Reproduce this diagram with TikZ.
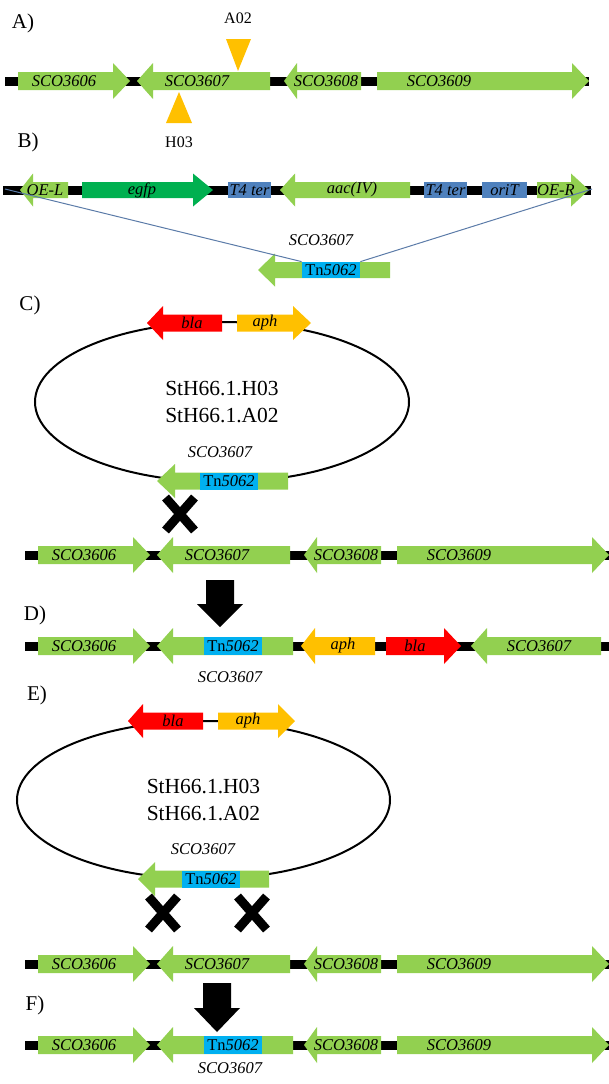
\documentclass[tikz,border=0pt]{standalone}
\usepackage{fontspec}
\setmainfont{Liberation Serif}
\usetikzlibrary{shapes.geometric,shapes.misc}

\definecolor{genegreen}{HTML}{92D050}
\definecolor{egfpgreen}{HTML}{00B050}
\definecolor{terblue}{HTML}{4F81BD}
\definecolor{tncyan}{HTML}{00B0F0}
\definecolor{aphyellow}{HTML}{FFC000}
\definecolor{blared}{HTML}{FF0000}
\definecolor{guideblue}{HTML}{5B7BA8}

\tikzset{every picture/.style={line width=0.75pt}}
\tikzset{
  genetext/.style={inner sep=0pt, font=\fontsize{16.5}{18}\selectfont\itshape},
  paneltext/.style={inner sep=0pt, font=\fontsize{21}{24}\selectfont},
  sitetext/.style={inner sep=0pt, font=\fontsize{16}{18}\selectfont},
  tnbox/.style={fill=tncyan, minimum width=58pt, minimum height={2*\bodyh},
    font=\fontsize{16.5}{18}\selectfont\upshape},
  featbox/.style={genetext, fill=terblue, minimum height=16pt},
  chrom/.style={line width=9pt},
  plasmid/.style={draw, ellipse, line width=2pt, inner sep=0pt, align=center,
    font=\fontsize{21.5}{27}\selectfont},
  guide/.style={draw=guideblue, line width=1pt},
  recomb/.style={cross out, draw, line width=9pt, minimum width=20pt,
    minimum height=24pt, inner sep=0pt},
}

\def\bodyh{9}
\def\headh{18}
% gene arrow: [node opts]{name}{y}{tail}{head base}{tip}{colour}{label x}{label}
\newcommand{\gene}[9][]{%
  \fill[#7] (#4,#3-\bodyh) -- (#5,#3-\bodyh) -- (#5,#3-\headh) -- (#6,#3)
    -- (#5,#3+\headh) -- (#5,#3+\bodyh) -- (#4,#3+\bodyh) -- cycle;
  \node[genetext,#1] (#2) at (#8,#3) {#9};}
% wild type SCO3606--SCO3609 locus
\newcommand{\wildtype}[2]{%
  \draw[chrom] (25,#2) -- (609,#2);
  \gene{#13606}{#2}{38}{133}{150}{genegreen}{84}{SCO3606}
  \gene{#13607}{#2}{290}{173}{157}{genegreen}{217}{SCO3607}
  \gene{#13608}{#2}{381}{317}{304}{genegreen}{346}{SCO3608}
  \gene{#13609}{#2}{397}{592}{609}{genegreen}{459}{SCO3609}}
\newcommand{\tntext}{Tn\textit{5062}}

\begin{document}
\begin{tikzpicture}[x=1pt,y=-1pt]
  \useasboundingbox (0,0) rectangle (609,1084);

  % A)
  \node[paneltext] (pA) at (23,23) {A)};
  \begin{scope}[xshift=-20pt]
    \wildtype{a}{81}
  \end{scope}
  \fill[aphyellow] (226,39) -- (251,39) -- (238,71) -- cycle;
  \node[sitetext] (sA02) at (238,18) {A02};
  \fill[aphyellow] (166,123) -- (192,123) -- (179,92) -- cycle;
  \node[sitetext] (sH03) at (179,142) {H03};

  % B)
  \node[paneltext] (pB) at (28,142) {B)};
  \def\bodyh{8}\def\headh{16.5}
  \draw[chrom] (3,190) -- (591,190);
  \gene{oel}{190}{68}{33}{20}{genegreen}{45}{OE-L}
  \gene{egfp}{190}{82}{193}{213}{egfpgreen}{142}{egfp}
  \node[featbox, minimum width=43pt] (ter1) at (249.5,190) {T4 ter};
  \gene{aac}{190}{410}{295}{280}{genegreen}{352}{aac(IV)}
  \node[featbox, minimum width=43pt] (ter2) at (445.5,190) {T4 ter};
  \node[featbox, minimum width=45pt] (orit) at (504.5,190) {oriT};
  \gene{oer}{190}{537}{571}{589}{genegreen}{556}{OE-R}
  \coordinate (bL) at (5,189);
  \coordinate (bR) at (592,189);
  \node[genetext] (bsco) at (321,240) {SCO3607};
  \gene[tnbox]{btn}{270}{390}{275}{258}{genegreen}{331}{\tntext}
  \draw[guide] (bL) -- (btn.north west);
  \draw[guide] (btn.north east) -- (bR);

  % C)
  \node[paneltext] (pC) at (30,305) {C)};
  \node[plasmid, minimum width=374pt, minimum height=160pt] (cring) at (222,402)
    {StH66.1.H03\\StH66.1.A02};
  \def\bodyh{8.5}\def\headh{17}
  \gene{cbla}{323}{222}{163}{147}{blared}{192}{bla}
  \gene{caph}{323}{237}{293}{311}{aphyellow}{265}{aph}
  \node[genetext] (csco) at (220,452) {SCO3607};
  \gene[tnbox]{ctn}{481}{288}{175}{157}{genegreen}{229}{\tntext}
  \node[recomb] (cx) at (180,514) {};
  \def\bodyh{9}\def\headh{18}
  \wildtype{c}{555}

  % D)
  \fill (206,580) -- (234,580) -- (234,604) -- (243,604) -- (220,627)
    -- (197,604) -- (206,604) -- cycle;
  \node[paneltext] (pD) at (35,615) {D)};
  \draw[chrom] (25,646) -- (609,646);
  \gene{d3606}{646}{38}{133}{150}{genegreen}{84}{SCO3606}
  \gene[tnbox]{dtn}{646}{293}{173}{157}{genegreen}{233}{\tntext}
  \gene{daph}{646}{375}{315}{301}{aphyellow}{343}{aph}
  \gene{dbla}{646}{386}{444}{461}{blared}{415}{bla}
  \gene{d3607}{646}{601}{487}{471}{genegreen}{539}{SCO3607}
  \node[genetext] (dsco) at (230,677) {SCO3607};

  % E)
  \node[paneltext] (pE) at (37,695) {E)};
  \node[plasmid, minimum width=373pt, minimum height=158pt] (ering) at (203.5,800)
    {StH66.1.H03\\StH66.1.A02};
  \def\bodyh{8.5}\def\headh{17}
  \gene{ebla}{721}{203}{143}{128}{blared}{173}{bla}
  \gene{eaph}{721}{218}{278}{295}{aphyellow}{248}{aph}
  \node[genetext] (esco) at (203,849) {SCO3607};
  \gene[tnbox]{etn}{879}{269}{155}{138}{genegreen}{211}{\tntext}
  \node[recomb] (ex1) at (163,913) {};
  \node[recomb] (ex2) at (252,913) {};
  \def\bodyh{9}\def\headh{18}
  \wildtype{e}{964}

  % F)
  \fill (203,983) -- (231,983) -- (231,1008) -- (240,1008) -- (217,1032)
    -- (194,1008) -- (203,1008) -- cycle;
  \node[paneltext] (pF) at (35,1005) {F)};
  \draw[chrom] (25,1045) -- (609,1045);
  \gene{f3606}{1045}{38}{133}{150}{genegreen}{84}{SCO3606}
  \gene[tnbox]{ftn}{1045}{293}{173}{157}{genegreen}{233}{\tntext}
  \gene{f3608}{1045}{381}{317}{304}{genegreen}{346}{SCO3608}
  \gene{f3609}{1045}{397}{592}{609}{genegreen}{459}{SCO3609}
  \node[genetext] (fsco) at (230,1068) {SCO3607};
\end{tikzpicture}
\end{document}
